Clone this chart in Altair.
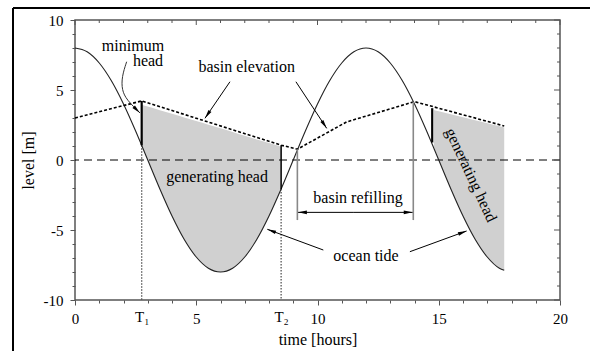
import math
import altair as alt
import pandas as pd

# ---------------- data ----------------
tide_t = [0, 0.5, 1, 1.5, 2, 2.5, 3, 3.5, 4, 4.5, 5, 5.5, 6, 6.5, 7, 7.5, 8, 8.5,
          9, 9.5, 10, 10.5, 11, 11.5, 12, 12.5, 13, 13.5, 14, 14.5, 15, 15.5, 16,
          16.5, 17, 17.5, 17.7]
tide_level = [8.0, 7.73, 6.93, 5.66, 4.0, 2.07, 0.0, -2.07, -4.0, -5.66, -6.93, -7.73,
              -8.0, -7.73, -6.93, -5.66, -4.0, -2.07, 0.0, 2.07, 4.0, 5.66, 6.93, 7.73,
              8.0, 7.73, 6.93, 5.66, 4.0, 2.07, 0.0, -2.07, -4.0, -5.66, -6.93, -7.73, -7.88]

basin_t = [0, 2.75, 8.5, 9.17, 11.2, 14.0, 17.7]
basin_level = [3.0, 4.22, 1.06, 0.77, 2.72, 4.17, 2.43]

gen1_t = [2.75, 3, 3.5, 4, 4.5, 5, 5.5, 6, 6.5, 7, 7.5, 8, 8.5]
gen1_top = [3.95, 3.82, 3.56, 3.30, 3.04, 2.78, 2.52, 2.26, 2.00, 1.73, 1.47, 1.21, 0.95]
gen1_bottom = [1.05, 0.0, -2.07, -4.0, -5.66, -6.93, -7.73, -8.0, -7.73, -6.93, -5.66, -4.0, -2.07]

gen2_t = [14.8, 15, 15.5, 16, 16.5, 17, 17.5, 17.7]
gen2_top = [3.57, 3.48, 3.27, 3.05, 2.84, 2.62, 2.41, 2.33]
gen2_bottom = [0.92, 0.0, -2.07, -4.0, -5.66, -6.93, -7.73, -7.88]

T1 = 2.75
T2 = 8.5

# minimum-head bars
minhead_t = [2.75, 14.73]
minhead_top = [4.22, 3.70]
minhead_bottom = [1.05, 1.25]

# T2 solid segment (basin -> tide)
t2_top, t2_bottom = 1.06, -2.07
# dotted drop lines to the axis
drop_t = [2.75, 8.5]
drop_top = [1.05, -2.07]

# basin refilling markers
refill_t = [9.17, 13.95]
refill_top = [0.77, 4.17]
refill_bottom = [-4.29, -4.29]

# straight arrows (from -> tip)
arrow_from_t = [6.39, 9.11, 10.24, 13.81, 11.5, 11.5]
arrow_from_level = [5.59, 5.59, -6.43, -6.55, -3.74, -3.74]
arrow_to_t = [5.36, 10.38, 7.93, 16.15, 9.20, 13.92]
arrow_to_level = [2.98, 2.26, -4.95, -5.07, -3.74, -3.74]

# curved "minimum head" arrow
curve_t = [2.13, 1.93, 1.93, 2.13, 2.68]
curve_level = [7.02, 5.95, 5.0, 4.29, 3.36]

labels = ["minimum", "head", "basin elevation", "generating head", "basin refilling", "ocean tide"]
label_t = [2.39, 3.01, 7.08, 5.86, 11.67, 12.0]
label_level = [8.15, 7.05, 6.66, -1.21, -2.74, -6.83]

rot_label = ["generating head"]
rot_t = [16.33]
rot_level = [-1.07]

x_ticks = [0, 1, 2, 2.75, 3, 4, 5, 6, 7, 8, 8.5, 9, 10, 11, 12, 13, 14, 15, 16, 17, 18, 19, 20]
y_ticks = list(range(-10, 11))
x_minor = [v for v in range(0, 21) if v % 5 != 0]
x_major = [0, 5, 10, 15, 20]
y_minor = [v for v in range(-10, 11) if v % 5 != 0]
y_major = [-10, -5, 0, 5, 10]

# ---------------- chart ----------------
W, H = 485, 280
SX, SY = W / 20.0, H / 20.0
FONT = "Liberation Serif"

xs = alt.Scale(domain=[0, 20], nice=False, zero=False)
ys = alt.Scale(domain=[-10, 10], nice=False, zero=False)

X_AXIS = alt.Axis(
    title="time [hours]", values=x_ticks, grid=False, domain=False,
    labelExpr="datum.value === 2.75 ? 'T₁' : datum.value === 8.5 ? 'T₂' : (datum.value % 5 === 0 ? '' + datum.value : '')",
    tickSize={"condition": {"test": "datum.value % 5 === 0", "value": 5}, "value": 3},
    tickOpacity={"condition": {"test": "datum.value === 2.75 || datum.value === 8.5", "value": 0}, "value": 1},
    labelFlush=False, labelOverlap=False, labelPadding=6, titlePadding=5)
Y_AXIS = alt.Axis(
    title="level [m]", values=y_ticks, grid=False, domain=False,
    labelExpr="datum.value % 5 === 0 ? '' + datum.value : ''",
    tickSize={"condition": {"test": "datum.value % 5 === 0", "value": 5}, "value": 3},
    labelOverlap=False, labelPadding=7, titlePadding=7)


def X(f):
    return alt.X(f, type="quantitative", scale=xs, axis=X_AXIS)


def Y(f):
    return alt.Y(f, type="quantitative", scale=ys, axis=Y_AXIS)


tide_df = pd.DataFrame({"t": tide_t, "level": tide_level})
basin_df = pd.DataFrame({"t": basin_t, "level": basin_level})
g1 = pd.DataFrame({"t": gen1_t, "top": gen1_top, "bottom": gen1_bottom})
g2 = pd.DataFrame({"t": gen2_t, "top": gen2_top, "bottom": gen2_bottom})

fill1 = alt.Chart(g1).mark_area(color="#d0d0d0", interpolate="monotone").encode(
    x=X("t"), y=Y("top"), y2="bottom:Q")
fill2 = alt.Chart(g2).mark_area(color="#d0d0d0", interpolate="monotone").encode(
    x=X("t"), y=Y("top"), y2="bottom:Q")

zero_line = alt.Chart(pd.DataFrame({"level": [0]})).mark_rule(
    color="black", strokeWidth=1, strokeDash=[8, 5]).encode(y=Y("level"))

drops = alt.Chart(pd.DataFrame({"t": drop_t, "top": drop_top, "bottom": [-10, -10]})).mark_rule(
    color="#555", strokeWidth=1.3, strokeDash=[1.5, 1.5]).encode(x=X("t"), y=Y("top"), y2="bottom:Q")

tide = alt.Chart(tide_df).mark_line(color="#222", strokeWidth=1.1, interpolate="monotone").encode(
    x=X("t"), y=Y("level"))

basin = alt.Chart(basin_df).mark_line(color="black", strokeWidth=1.6, strokeDash=[3, 2]).encode(
    x=X("t"), y=Y("level"))

minhead = alt.Chart(pd.DataFrame({"t": minhead_t, "top": minhead_top, "bottom": minhead_bottom})).mark_rule(
    color="black", strokeWidth=2.2).encode(x=X("t"), y=Y("top"), y2="bottom:Q")

t2seg = alt.Chart(pd.DataFrame({"t": [T2], "top": [t2_top], "bottom": [t2_bottom]})).mark_rule(
    color="black", strokeWidth=1.5).encode(x=X("t"), y=Y("top"), y2="bottom:Q")

refill = alt.Chart(pd.DataFrame({"t": refill_t, "top": refill_top, "bottom": refill_bottom})).mark_rule(
    color="#888", strokeWidth=1.6).encode(x=X("t"), y=Y("top"), y2="bottom:Q")

arr = pd.DataFrame({"t0": arrow_from_t, "l0": arrow_from_level, "t1": arrow_to_t, "l1": arrow_to_level})
arr["angle"] = [
    (math.degrees(math.atan2((b - a) * SX, (d - c) * SY)) + 360) % 360
    for a, b, c, d in zip(arr.t0, arr.t1, arr.l0, arr.l1)
]
arrow_lines = alt.Chart(arr).mark_rule(color="black", strokeWidth=1).encode(
    x=X("t0"), x2="t1:Q", y=Y("l0"), y2="l1:Q")

HEAD = "M0,0L0.45,2.2L-0.45,2.2Z"
arrow_heads = alt.Chart(arr).mark_point(shape=HEAD, filled=True, color="black", size=64, opacity=1).encode(
    x=X("t1"), y=Y("l1"), angle=alt.Angle("angle:Q", scale=None))

curve_df = pd.DataFrame({"t": curve_t, "level": curve_level, "i": list(range(len(curve_t)))})
curve = alt.Chart(curve_df).mark_line(color="#333", strokeWidth=1, interpolate="basis").encode(
    x=X("t"), y=Y("level"), order="i:Q")
ca = (curve_t[-1] - curve_t[-2]) * SX
cb = (curve_level[-1] - curve_level[-2]) * SY
curve_head = alt.Chart(pd.DataFrame({"t": [curve_t[-1]], "level": [curve_level[-1]],
                                     "angle": [(math.degrees(math.atan2(ca, cb)) + 360) % 360]})).mark_point(
    shape=HEAD, filled=True, color="black", size=64, opacity=1).encode(
    x=X("t"), y=Y("level"), angle=alt.Angle("angle:Q", scale=None))

texts = alt.Chart(pd.DataFrame({"t": label_t, "level": label_level, "txt": labels})).mark_text(
    font=FONT, fontSize=16, color="black", align="center", baseline="middle").encode(
    x=X("t"), y=Y("level"), text="txt:N")

rot_text = alt.Chart(pd.DataFrame({"t": rot_t, "level": rot_level, "txt": rot_label})).mark_text(
    font=FONT, fontSize=16, color="black", align="center", baseline="middle", angle=65).encode(
    x=X("t"), y=Y("level"), text="txt:N")

# inward ticks on top and right edges
top_minor = alt.Chart(pd.DataFrame({"t": x_minor})).mark_rule(color="#555", strokeWidth=1).encode(
    x=X("t"), y=alt.value(0), y2=alt.value(3))
top_major = alt.Chart(pd.DataFrame({"t": x_major})).mark_rule(color="#555", strokeWidth=1).encode(
    x=X("t"), y=alt.value(0), y2=alt.value(5))
right_minor = alt.Chart(pd.DataFrame({"level": y_minor})).mark_rule(color="#555", strokeWidth=1).encode(
    y=Y("level"), x=alt.value(W - 3), x2=alt.value(W))
right_major = alt.Chart(pd.DataFrame({"level": y_major})).mark_rule(color="#555", strokeWidth=1).encode(
    y=Y("level"), x=alt.value(W - 6), x2=alt.value(W))

# outer figure frame (top and left edges)
frame_top = alt.Chart(pd.DataFrame({"a": [0]})).mark_rule(color="black", strokeWidth=2).encode(
    x=alt.value(-62), x2=alt.value(W + 40), y=alt.value(-12))
frame_left = alt.Chart(pd.DataFrame({"a": [0]})).mark_rule(color="black", strokeWidth=2).encode(
    x=alt.value(-62), y=alt.value(-12), y2=alt.value(H + 60))

chart = alt.layer(
    fill1, fill2, zero_line, drops, tide, basin, minhead, t2seg, refill,
    arrow_lines, arrow_heads, curve, curve_head, texts, rot_text,
    top_minor, top_major, right_minor, right_major, frame_top, frame_left,
).properties(
    width=W, height=H,
    padding={"left": 75, "top": 20, "right": 30, "bottom": 51},
    autosize=alt.AutoSizeParams(type="none"),
).configure_view(
    stroke="#555", strokeWidth=1.5
).configure_axis(
    labelFont=FONT, labelFontSize=15, labelColor="black",
    titleFont=FONT, titleFontSize=16, titleFontWeight="normal", titleColor="black",
    tickColor="#555", tickWidth=1,
)

chart.save("out.html", embed_options={"renderer": "svg", "actions": False})
